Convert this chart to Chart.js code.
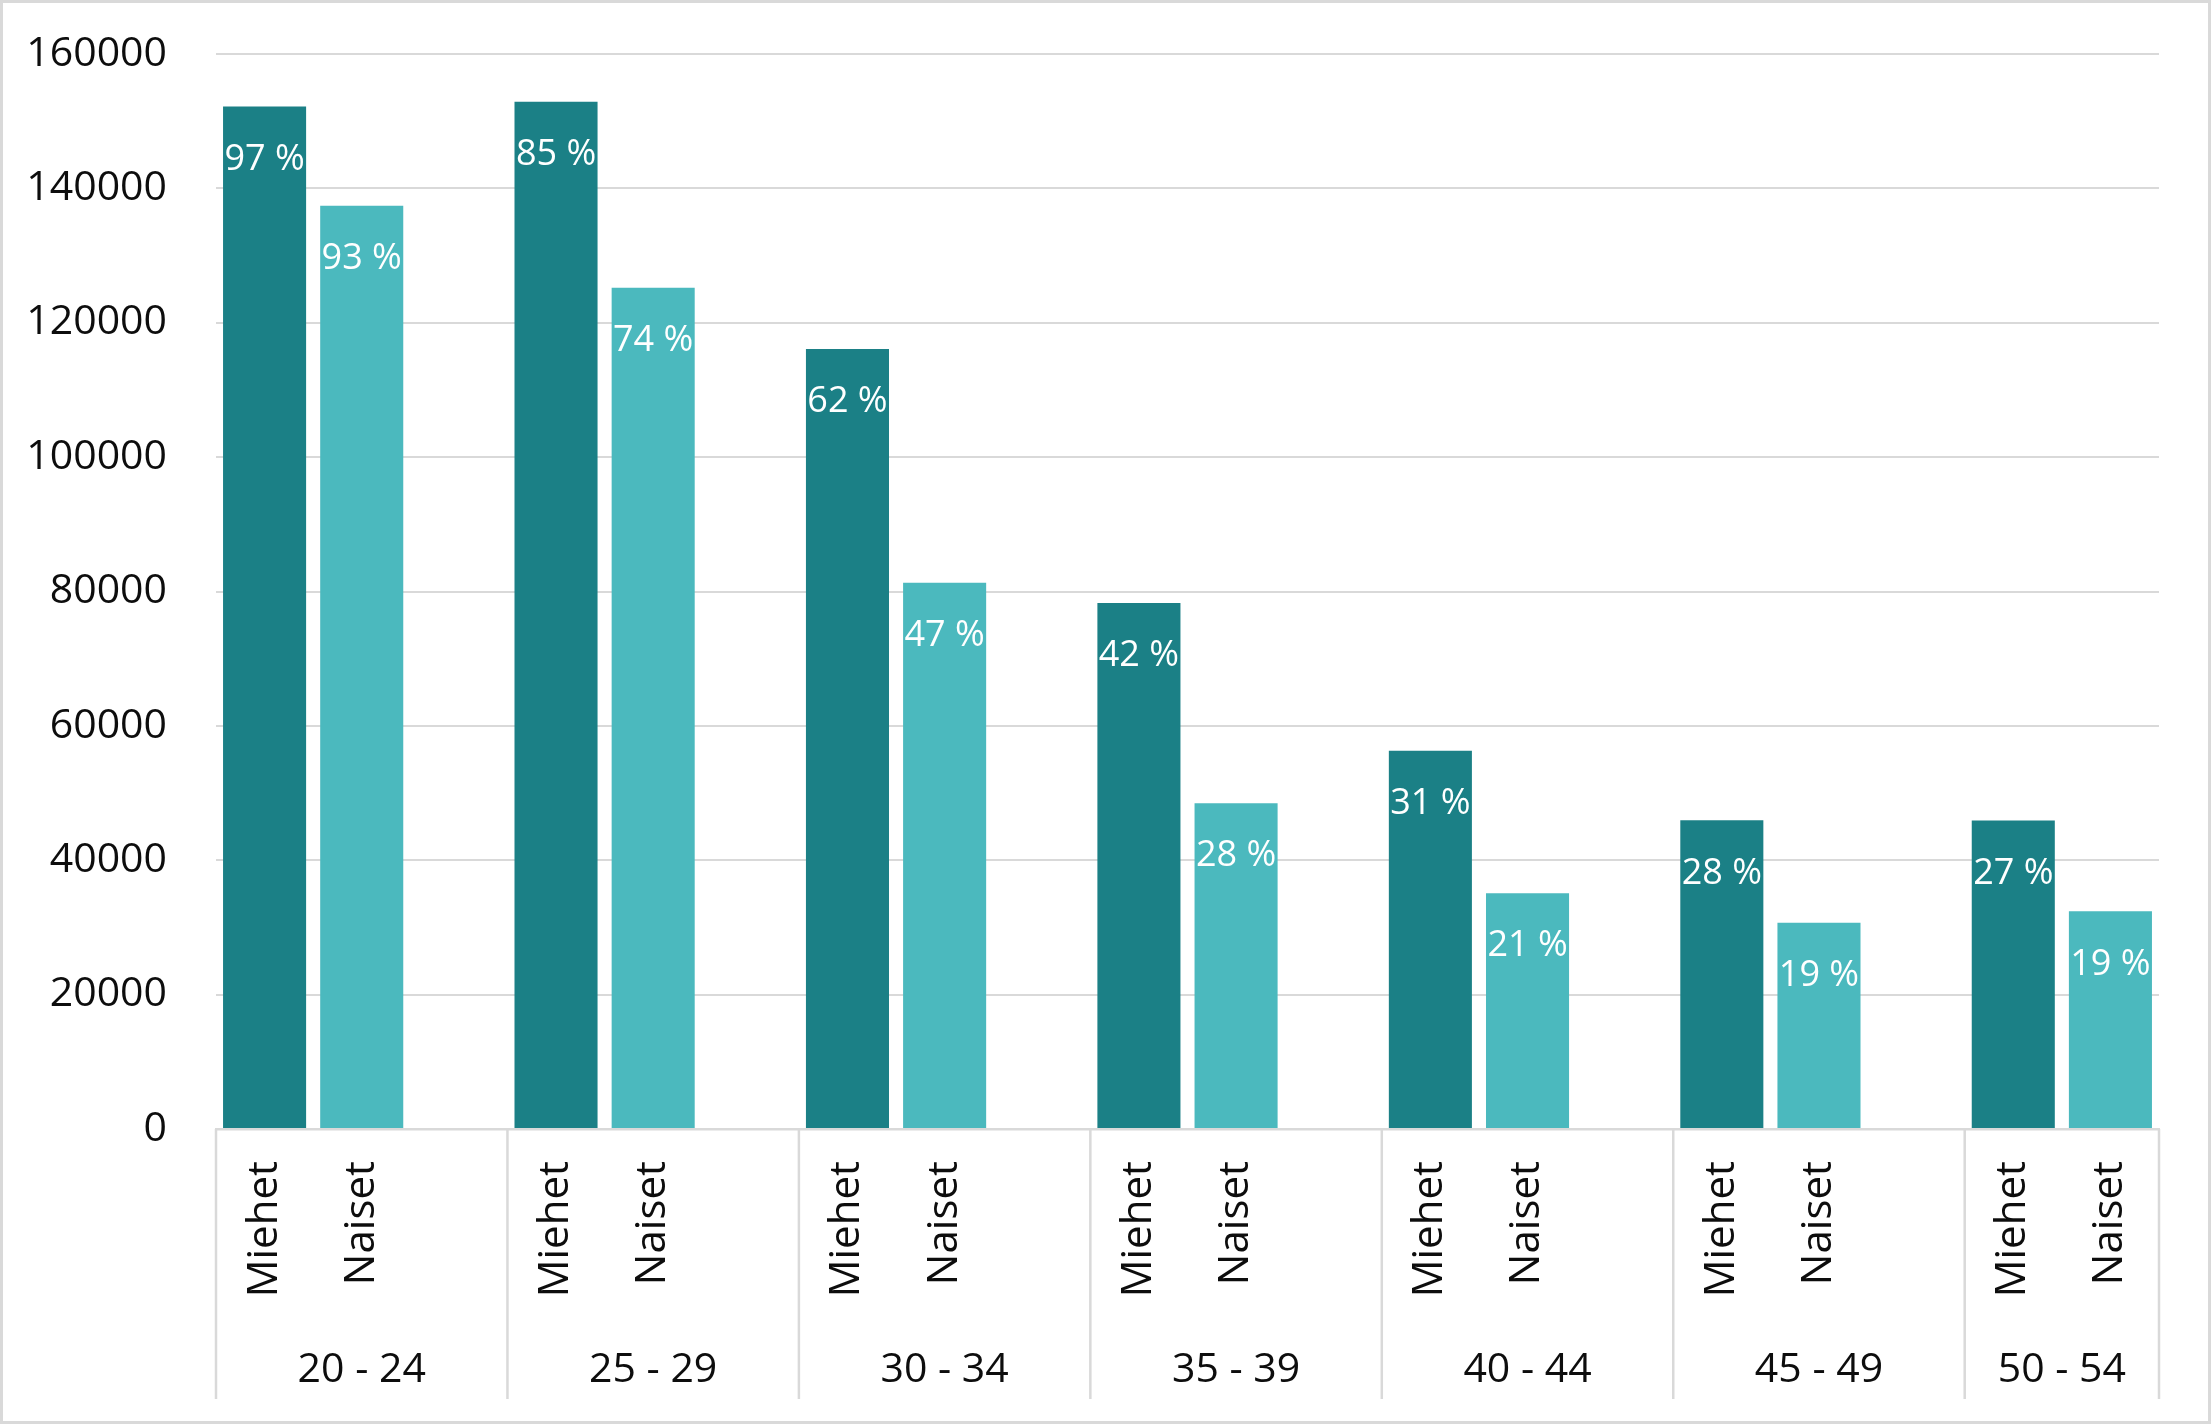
<!DOCTYPE html>
<html>
<head>
<meta charset="utf-8">
<script src="https://cdn.jsdelivr.net/npm/chart.js@4.4.1/dist/chart.umd.min.js"></script>
<style>
    html,body{margin:0;padding:0;background:#fff;}
    #wrap{position:relative;width:2211px;height:1424px;}
    #summaryChart{position:absolute;left:0;top:0;}
    #frame{position:absolute;left:0;top:0;width:2211px;height:1424px;box-sizing:border-box;border:3px solid #d9d9d9;pointer-events:none;}
</style>
</head>
<body>
<div id="wrap">
    <canvas id="summaryChart" width="2211" height="1424"></canvas>
    <div id="frame"></div>
</div>
<script>
// ===============================
// Data
// ===============================

const groups = ["20 - 24","25 - 29","30 - 34","35 - 39","40 - 44","45 - 49","50 - 54"];
const sexes = ["Miehet","Naiset"];

const miehet = [152200,152900,116100,78300,56300,45950,45900];
const naiset = [137400,125200,81300,48500,35100,30700,32400];

const miehetPct = ["97 %","85 %","62 %","42 %","31 %","28 %","27 %"];
const naisetPct = ["93 %","74 %","47 %","28 %","21 %","19 %","19 %"];

const yTicks = [0,20000,40000,60000,80000,100000,120000,140000,160000];

const FONT = "'Open Sans', 'Liberation Sans', sans-serif";
const DARK = "#1b8086";
const LIGHT = "#4bb9be";
const GRID = "#d9d9d9";

// ===============================
// Build category slots (M, N, gap)
// ===============================

const labels = [];
const values = [];
const pct = [];
const colors = [];

groups.forEach((g,i)=>{
    labels.push(sexes[0]); values.push(miehet[i]); pct.push(miehetPct[i]); colors.push(DARK);
    labels.push(sexes[1]); values.push(naiset[i]); pct.push(naisetPct[i]); colors.push(LIGHT);
    if(i<groups.length-1){
        labels.push(""); values.push(null); pct.push(""); colors.push(DARK);
    }
});

// ===============================
// Plugins
// ===============================

const barLabels = {
    id:"barLabels",
    afterDatasetsDraw(chart){
        const ctx = chart.ctx;
        const meta = chart.getDatasetMeta(0);
        ctx.save();
        ctx.fillStyle = "#ffffff";
        ctx.font = "36px " + FONT;
        ctx.textAlign = "center";
        ctx.textBaseline = "middle";
        meta.data.forEach((el,i)=>{
            if(values[i]===null) return;
            ctx.fillText(pct[i], el.x, el.y + 53);
        });
        ctx.restore();
    }
};

const groupAxis = {
    id:"groupAxis",
    afterDraw(chart){
        const ctx = chart.ctx;
        const x = chart.scales.x;
        const bottom = chart.chartArea.bottom;
        const slot = x.width / labels.length;
        ctx.save();
        ctx.strokeStyle = GRID;
        ctx.lineWidth = 2.5;
        ctx.fillStyle = "#0d0d0d";
        ctx.font = "41px " + FONT;
        ctx.textAlign = "center";
        ctx.textBaseline = "middle";
        let idx = 0;
        groups.forEach((g,i)=>{
            const count = i<groups.length-1 ? 3 : 2;
            const left = x.getPixelForValue(idx) - slot/2;
            const right = x.getPixelForValue(idx+count-1) + slot/2;
            ctx.beginPath();
            ctx.moveTo(left, bottom);
            ctx.lineTo(left, bottom + 270);
            if(i===groups.length-1){
                ctx.moveTo(right, bottom);
                ctx.lineTo(right, bottom + 270);
            }
            ctx.stroke();
            ctx.fillText(g, (left+right)/2, bottom + 241);
            idx += count;
        });
        ctx.restore();
    }
};

// ===============================
// Chart
// ===============================

const ctx = document.getElementById("summaryChart");

const chart = new Chart(ctx, {
    type:"bar",
    data:{
        labels:labels,
        datasets:[{
            data:values,
            backgroundColor:colors,
            borderWidth:0,
            categoryPercentage:1,
            barPercentage:0.855
        }]
    },
    options:{
        responsive:false,
        animation:false,
        events:[],
        layout:{
            padding:{top:54,right:52,left:0,bottom:0}
        },
        plugins:{
            legend:{display:false},
            tooltip:{enabled:false}
        },
        scales:{
            x:{
                grid:{display:false,drawTicks:false},
                border:{display:true,color:GRID,width:2.5},
                ticks:{
                    autoSkip:false,
                    minRotation:90,
                    maxRotation:90,
                    padding:32,
                    color:"#0d0d0d",
                    font:{family:FONT,size:42}
                },
                afterFit(scale){ scale.height = 295; }
            },
            y:{
                min:0,
                max:160000,
                afterBuildTicks(scale){
                    scale.ticks = yTicks.map(v=>({value:v}));
                },
                grid:{color:GRID,lineWidth:2,drawTicks:false},
                border:{display:false},
                ticks:{
                    padding:49,
                    color:"#0d0d0d",
                    font:{family:FONT,size:41},
                    callback:(v)=>String(v)
                },
                afterFit(scale){
                    scale.width = 216;
                    scale.paddingTop = 0;
                    scale.paddingBottom = 0;
                }
            }
        }
    },
    plugins:[barLabels,groupAxis]
});
</script>
</body>
</html>
